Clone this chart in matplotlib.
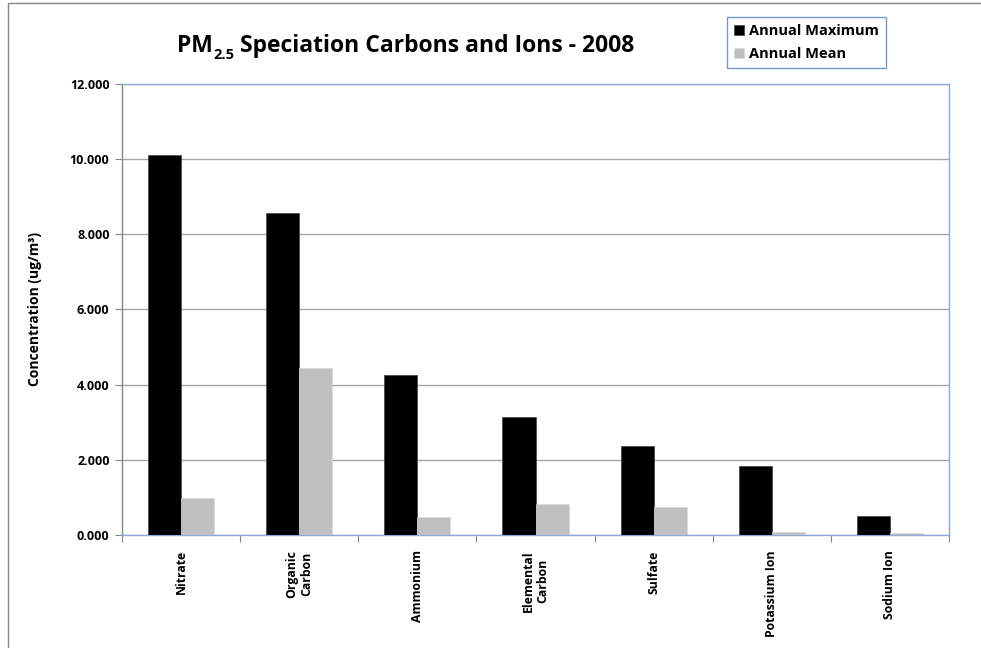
import numpy as np
import matplotlib
matplotlib.use('Agg')
import matplotlib.pyplot as plt
from matplotlib import font_manager
from matplotlib.font_manager import FontProperties
from matplotlib.patches import Rectangle

# use a bold font file directly
bold_path = None
for name in ['OpenSans-Bold.ttf', 'LiberationSans-Bold.ttf']:
    for f in font_manager.fontManager.ttflist:
        if f.fname.endswith(name):
            bold_path = f.fname
            break
    if bold_path:
        break


def bold(size):
    if bold_path:
        return FontProperties(fname=bold_path, size=size)
    return FontProperties(family='DejaVu Sans', weight='bold', size=size)


# data
species = ['Nitrate', 'Organic\nCarbon', 'Ammonium', 'Elemental\nCarbon',
           'Sulfate', 'Potassium Ion', 'Sodium Ion']
annual_max = [10.10, 8.56, 4.25, 3.14, 2.38, 1.83, 0.50]
annual_mean = [0.98, 4.45, 0.49, 0.82, 0.75, 0.07, 0.06]
y_ticks = [0, 2, 4, 6, 8, 10, 12]

fig = plt.figure(figsize=(9.81, 6.48), dpi=100)
ax = fig.add_axes([0.1244, 0.1744, 0.8430, 0.6960])

x = np.arange(len(species))
w = 0.28
ax.bar(x - w / 2, annual_max, w, color='black', edgecolor='#404040',
       linewidth=0.5, label='Annual Maximum', zorder=3)
ax.bar(x + w / 2, annual_mean, w, color='#C0C0C0', edgecolor='#D8D8D8',
       linewidth=0.5, label='Annual Mean', zorder=3)

ax.set_xlim(-0.5, len(species) - 0.5)
ax.set_ylim(0, 12)
ax.set_yticks(y_ticks)
ax.set_yticklabels([f'{v:.3f}' for v in y_ticks], fontproperties=bold(9))
ax.yaxis.grid(True, color='#A6A6A6', linewidth=1.0, zorder=0)
ax.tick_params(axis='y', direction='out', length=5, color='#868686', pad=4)

# category boundaries carry the tick marks, labels sit at centres
ax.set_xticks(np.arange(len(species) + 1) - 0.5)
ax.set_xticklabels([])
ax.tick_params(axis='x', which='major', direction='out', length=5, color='#868686')
ax.set_xticks(x, minor=True)
ax.set_xticklabels(species, minor=True, rotation=90, fontproperties=bold(8.8),
                   va='top', ha='center', multialignment='center')
ax.tick_params(axis='x', which='minor', length=0, pad=11)

for side in ['top', 'right']:
    ax.spines[side].set_color('#8EA9DB')
ax.spines['left'].set_color('#868686')
ax.spines['bottom'].set_color('#8EA9DB')
for s in ax.spines.values():
    s.set_linewidth(1.0)

ax.set_ylabel('Concentration (ug/m³)', fontproperties=bold(10), labelpad=20)

# title with subscript, built from three pieces on one baseline
t1 = fig.text(177 / 981, 1 - 52 / 648, 'PM', fontproperties=bold(16.5),
              ha='left', va='baseline')
t2 = ax.annotate('2.5', xy=(1, 0), xycoords=t1, xytext=(0.5, -1),
                 textcoords='offset points', fontproperties=bold(10.5),
                 ha='left', va='baseline', annotation_clip=False)
t3 = ax.annotate(' Speciation Carbons and Ions - 2008', xy=(1, 0),
                 xycoords=(t2, t1), xytext=(0, 0), textcoords='offset points',
                 fontproperties=bold(16.5), ha='left', va='bottom',
                 annotation_clip=False)

leg = fig.legend(loc='upper left', bbox_to_anchor=(0.741, 0.974), ncol=1,
                 prop=bold(10.5), frameon=True, fancybox=False,
                 handlelength=0.7, handleheight=0.7, handletextpad=0.3,
                 labelspacing=0.6, borderpad=0.5, borderaxespad=0)
leg.get_frame().set_edgecolor('#4F81BD')
leg.get_frame().set_linewidth(1.0)

# outer chart-area border (runs off the right and bottom edges)
fig.patches.append(Rectangle((8 / 981, -0.05), 1.1, 0.05 + 645 / 648,
                             transform=fig.transFigure, fill=False,
                             edgecolor='#868686', linewidth=1.0))

fig.savefig('out.png', dpi=100)
